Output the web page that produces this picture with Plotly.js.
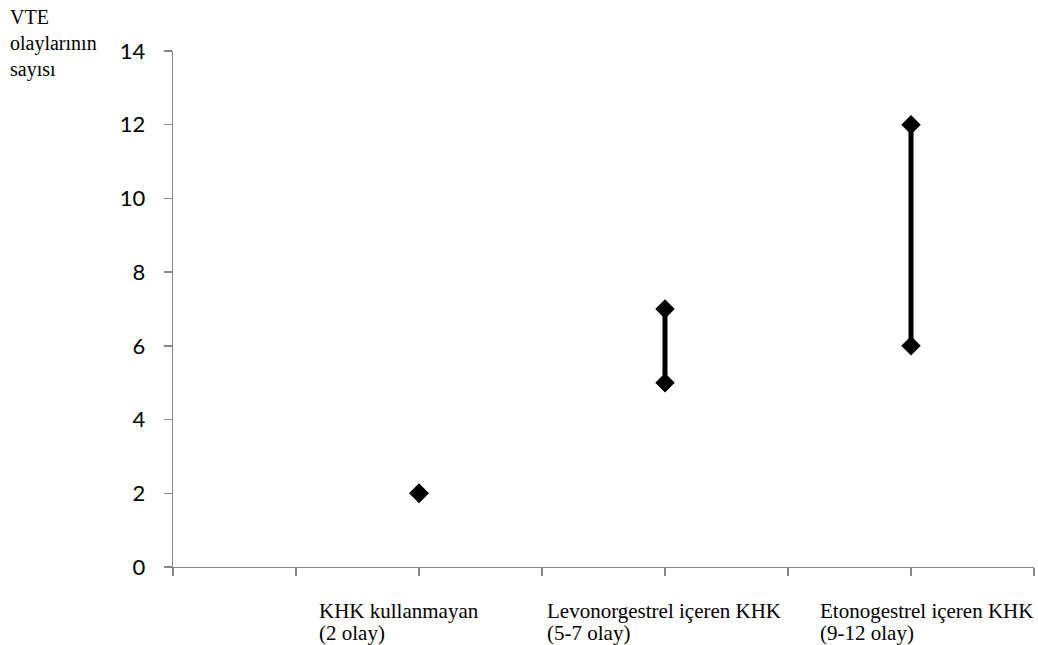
<!DOCTYPE html>
<html>
<head>
<meta charset="utf-8">
<script src="https://cdn.plot.ly/plotly-3.0.1.min.js"></script>
<style>html,body{margin:0;padding:0;background:#fff;}#chart{width:1038px;height:645px;}</style>
</head>
<body>
<div id="chart"></div>
<script>
// Data
const categoryLine1 = ["KHK kullanmayan", "Levonorgestrel içeren KHK", "Etonogestrel içeren KHK"];
const categoryLine2 = ["(2 olay)", "(5-7 olay)", "(9-12 olay)"];
const lowValues = [2, 5, 6];
const highValues = [2, 7, 12];
const yTitleLines = ["VTE", "olaylarının", "sayısı"];

// Build range segments from the data
const xs = [], ys = [];
lowValues.forEach((lo, i) => {
  xs.push(i, i, null);
  ys.push(lo, highValues[i], null);
});

const trace = {
  x: xs, y: ys,
  type: 'scatter', mode: 'lines+markers',
  line: {color: '#000000', width: 5},
  marker: {symbol: 'diamond', size: 15, color: '#000000'},
  hoverinfo: 'skip', showlegend: false,
  connectgaps: false
};

const axisGray = '#868686';
const serif = '"Liberation Serif", "Times New Roman", serif';

const annotations = [];
const labelLeft = [0.1672, 0.432, 0.749];
categoryLine1.forEach((t, i) => {
  annotations.push({text: t, xref: 'paper', yref: 'paper', x: labelLeft[i], y: -0.085,
    xanchor: 'left', yanchor: 'middle', showarrow: false, align: 'left',
    font: {family: serif, size: 21, color: '#000'}});
  annotations.push({text: categoryLine2[i], xref: 'paper', yref: 'paper', x: labelLeft[i], y: -0.128,
    xanchor: 'left', yanchor: 'middle', showarrow: false, align: 'left',
    font: {family: serif, size: 21, color: '#000'}});
});
const titleY = [1.066, 1.0136, 0.965];
yTitleLines.forEach((t, i) => {
  annotations.push({text: t, xref: 'paper', yref: 'paper', x: -0.1916, y: titleY[i],
    xanchor: 'left', yanchor: 'middle', showarrow: false, align: 'left',
    font: {family: serif, size: 20, color: '#000'}});
});

const layout = {
  width: 1038, height: 645,
  margin: {l: 173, r: 4, t: 51, b: 78},
  paper_bgcolor: '#fff', plot_bgcolor: '#fff',
  showlegend: false,
  xaxis: {
    type: 'linear', range: [-1, 2.5],
    tickmode: 'linear', tick0: -1, dtick: 0.5,
    showticklabels: false, ticks: 'outside', ticklen: 8, tickwidth: 1.3, tickcolor: axisGray,
    showline: true, linecolor: axisGray, linewidth: 1.3,
    showgrid: false, zeroline: false, fixedrange: true
  },
  yaxis: {
    range: [0, 14], tickmode: 'linear', tick0: 0, dtick: 2,
    ticks: 'outside', ticklen: 8, tickwidth: 1.3, tickcolor: axisGray,
    showline: true, linecolor: axisGray, linewidth: 1.3,
    showgrid: false, zeroline: false,
    ticklabelstandoff: 14,
    tickfont: {family: 'Lato, sans-serif', size: 22, color: '#000'},
    fixedrange: true
  },
  annotations: annotations
};

Plotly.newPlot('chart', [trace], layout, {displayModeBar: false, staticPlot: true});
</script>
</body>
</html>
